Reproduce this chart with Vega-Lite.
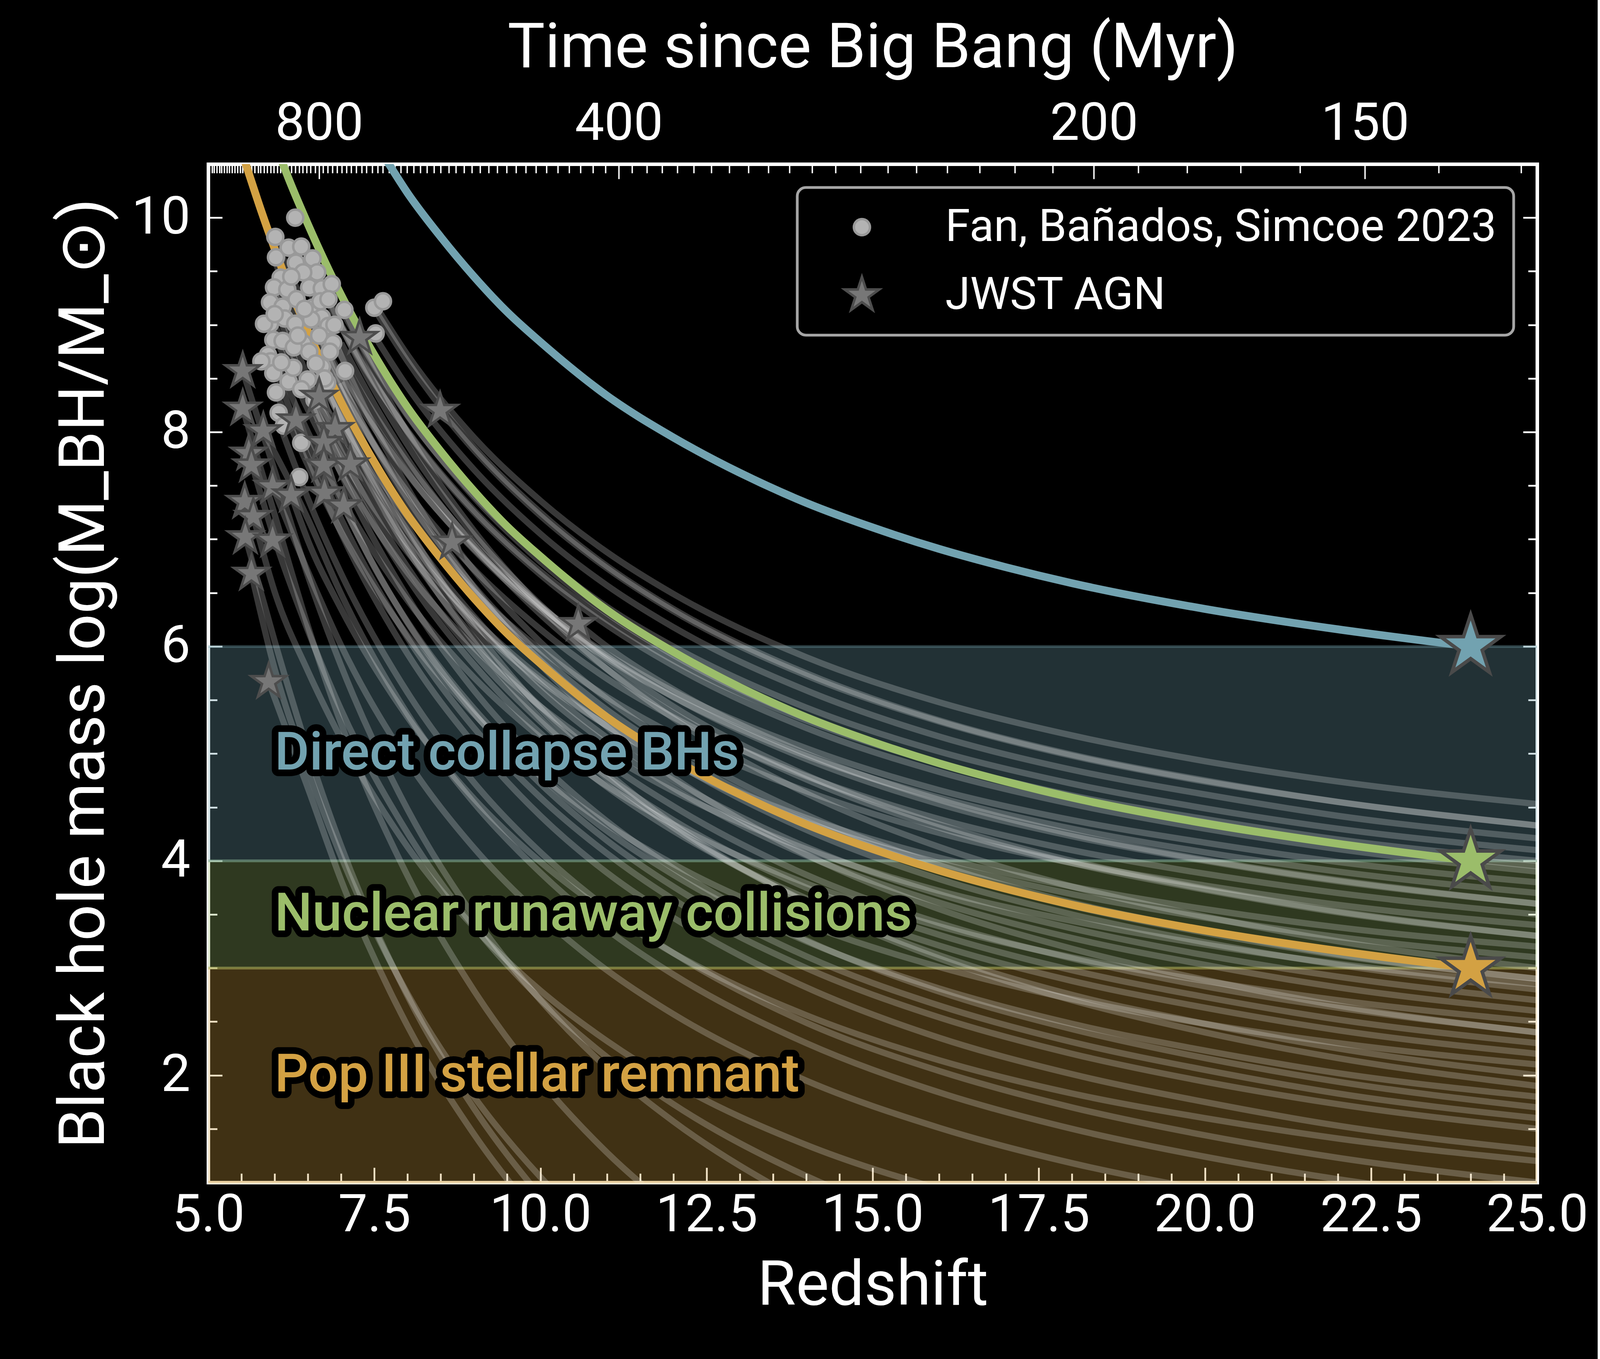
{
  "$schema": "https://vega.github.io/schema/vega-lite/v6.json",
  "width": 4090,
  "height": 3479,
  "autosize": {"type": "fit", "contains": "padding"},
  "padding": {"left": 134, "top": 43, "right": 24, "bottom": 108},
  "background": "black",
  "datasets": {
    "bands": [
      {"seed": "Direct collapse BHs", "lo": 4, "hi": 6, "ym": 5, "zt": 6},
      {"seed": "Nuclear runaway collisions", "lo": 3, "hi": 4, "ym": 3.5, "zt": 6},
      {"seed": "Pop III stellar remnant", "lo": 1, "hi": 3, "ym": 2, "zt": 6}
    ],
    "curves": [
      {"seed": "Direct collapse BHs", "z": 7.7, "m": 10.52},
      {"seed": "Direct collapse BHs", "z": 8, "m": 10.23},
      {"seed": "Direct collapse BHs", "z": 8.5, "m": 9.82},
      {"seed": "Direct collapse BHs", "z": 9, "m": 9.45},
      {"seed": "Direct collapse BHs", "z": 9.5, "m": 9.12},
      {"seed": "Direct collapse BHs", "z": 10, "m": 8.84},
      {"seed": "Direct collapse BHs", "z": 11, "m": 8.34},
      {"seed": "Direct collapse BHs", "z": 12, "m": 7.95},
      {"seed": "Direct collapse BHs", "z": 13, "m": 7.62},
      {"seed": "Direct collapse BHs", "z": 14, "m": 7.34},
      {"seed": "Direct collapse BHs", "z": 15, "m": 7.11},
      {"seed": "Direct collapse BHs", "z": 16, "m": 6.91},
      {"seed": "Direct collapse BHs", "z": 17, "m": 6.74},
      {"seed": "Direct collapse BHs", "z": 18, "m": 6.59},
      {"seed": "Direct collapse BHs", "z": 20, "m": 6.35},
      {"seed": "Direct collapse BHs", "z": 22, "m": 6.16},
      {"seed": "Direct collapse BHs", "z": 24, "m": 6.0},
      {"seed": "Nuclear runaway collisions", "z": 6.1, "m": 10.54},
      {"seed": "Nuclear runaway collisions", "z": 6.2, "m": 10.38},
      {"seed": "Nuclear runaway collisions", "z": 6.5, "m": 9.94},
      {"seed": "Nuclear runaway collisions", "z": 7, "m": 9.28},
      {"seed": "Nuclear runaway collisions", "z": 7.5, "m": 8.72},
      {"seed": "Nuclear runaway collisions", "z": 8, "m": 8.23},
      {"seed": "Nuclear runaway collisions", "z": 8.5, "m": 7.82},
      {"seed": "Nuclear runaway collisions", "z": 9, "m": 7.45},
      {"seed": "Nuclear runaway collisions", "z": 9.5, "m": 7.12},
      {"seed": "Nuclear runaway collisions", "z": 10, "m": 6.84},
      {"seed": "Nuclear runaway collisions", "z": 11, "m": 6.34},
      {"seed": "Nuclear runaway collisions", "z": 12, "m": 5.95},
      {"seed": "Nuclear runaway collisions", "z": 13, "m": 5.62},
      {"seed": "Nuclear runaway collisions", "z": 14, "m": 5.34},
      {"seed": "Nuclear runaway collisions", "z": 15, "m": 5.11},
      {"seed": "Nuclear runaway collisions", "z": 16, "m": 4.91},
      {"seed": "Nuclear runaway collisions", "z": 17, "m": 4.74},
      {"seed": "Nuclear runaway collisions", "z": 18, "m": 4.59},
      {"seed": "Nuclear runaway collisions", "z": 20, "m": 4.35},
      {"seed": "Nuclear runaway collisions", "z": 22, "m": 4.16},
      {"seed": "Nuclear runaway collisions", "z": 24, "m": 4.0},
      {"seed": "Pop III stellar remnant", "z": 5.55, "m": 10.53},
      {"seed": "Pop III stellar remnant", "z": 5.8, "m": 10.06},
      {"seed": "Pop III stellar remnant", "z": 6, "m": 9.71},
      {"seed": "Pop III stellar remnant", "z": 6.2, "m": 9.38},
      {"seed": "Pop III stellar remnant", "z": 6.5, "m": 8.94},
      {"seed": "Pop III stellar remnant", "z": 7, "m": 8.28},
      {"seed": "Pop III stellar remnant", "z": 7.5, "m": 7.72},
      {"seed": "Pop III stellar remnant", "z": 8, "m": 7.23},
      {"seed": "Pop III stellar remnant", "z": 8.5, "m": 6.82},
      {"seed": "Pop III stellar remnant", "z": 9, "m": 6.45},
      {"seed": "Pop III stellar remnant", "z": 9.5, "m": 6.12},
      {"seed": "Pop III stellar remnant", "z": 10, "m": 5.84},
      {"seed": "Pop III stellar remnant", "z": 11, "m": 5.34},
      {"seed": "Pop III stellar remnant", "z": 12, "m": 4.95},
      {"seed": "Pop III stellar remnant", "z": 13, "m": 4.62},
      {"seed": "Pop III stellar remnant", "z": 14, "m": 4.34},
      {"seed": "Pop III stellar remnant", "z": 15, "m": 4.11},
      {"seed": "Pop III stellar remnant", "z": 16, "m": 3.91},
      {"seed": "Pop III stellar remnant", "z": 17, "m": 3.74},
      {"seed": "Pop III stellar remnant", "z": 18, "m": 3.59},
      {"seed": "Pop III stellar remnant", "z": 20, "m": 3.35},
      {"seed": "Pop III stellar remnant", "z": 22, "m": 3.16},
      {"seed": "Pop III stellar remnant", "z": 24, "m": 3.0}
    ],
    "tracks": [
      {"id": "t1", "z": 7.5, "m": 9.2}, {"id": "t1", "z": 8, "m": 8.72}, {"id": "t1", "z": 9, "m": 7.95}, {"id": "t1", "z": 10, "m": 7.36}, {"id": "t1", "z": 11, "m": 6.88}, {"id": "t1", "z": 12, "m": 6.49}, {"id": "t1", "z": 14, "m": 5.9}, {"id": "t1", "z": 16, "m": 5.48}, {"id": "t1", "z": 18, "m": 5.17}, {"id": "t1", "z": 20, "m": 4.93}, {"id": "t1", "z": 22, "m": 4.74}, {"id": "t1", "z": 25, "m": 4.53},
      {"id": "t2", "z": 7.5, "m": 9.15}, {"id": "t2", "z": 8, "m": 8.66}, {"id": "t2", "z": 9, "m": 7.86}, {"id": "t2", "z": 10, "m": 7.25}, {"id": "t2", "z": 11, "m": 6.75}, {"id": "t2", "z": 12, "m": 6.35}, {"id": "t2", "z": 14, "m": 5.75}, {"id": "t2", "z": 16, "m": 5.31}, {"id": "t2", "z": 18, "m": 4.99}, {"id": "t2", "z": 20, "m": 4.75}, {"id": "t2", "z": 22, "m": 4.55}, {"id": "t2", "z": 25, "m": 4.33},
      {"id": "t3", "z": 7.5, "m": 8.9}, {"id": "t3", "z": 8, "m": 8.42}, {"id": "t3", "z": 9, "m": 7.65}, {"id": "t3", "z": 10, "m": 7.05}, {"id": "t3", "z": 11, "m": 6.57}, {"id": "t3", "z": 12, "m": 6.18}, {"id": "t3", "z": 14, "m": 5.59}, {"id": "t3", "z": 16, "m": 5.16}, {"id": "t3", "z": 18, "m": 4.85}, {"id": "t3", "z": 20, "m": 4.62}, {"id": "t3", "z": 22, "m": 4.42}, {"id": "t3", "z": 25, "m": 4.21},
      {"id": "t4", "z": 7, "m": 9.14}, {"id": "t4", "z": 7.5, "m": 8.62}, {"id": "t4", "z": 8, "m": 8.15}, {"id": "t4", "z": 9, "m": 7.41}, {"id": "t4", "z": 10, "m": 6.84}, {"id": "t4", "z": 11, "m": 6.37}, {"id": "t4", "z": 12, "m": 6.0}, {"id": "t4", "z": 14, "m": 5.43}, {"id": "t4", "z": 16, "m": 5.02}, {"id": "t4", "z": 18, "m": 4.72}, {"id": "t4", "z": 20, "m": 4.49}, {"id": "t4", "z": 22, "m": 4.3}, {"id": "t4", "z": 25, "m": 4.1},
      {"id": "t5", "z": 7, "m": 8.57}, {"id": "t5", "z": 7.5, "m": 8.07}, {"id": "t5", "z": 8, "m": 7.62}, {"id": "t5", "z": 9, "m": 6.9}, {"id": "t5", "z": 10, "m": 6.34}, {"id": "t5", "z": 11, "m": 5.89}, {"id": "t5", "z": 12, "m": 5.53}, {"id": "t5", "z": 14, "m": 4.98}, {"id": "t5", "z": 16, "m": 4.59}, {"id": "t5", "z": 18, "m": 4.3}, {"id": "t5", "z": 20, "m": 4.08}, {"id": "t5", "z": 22, "m": 3.9}, {"id": "t5", "z": 25, "m": 3.7},
      {"id": "t6", "z": 7, "m": 8.83}, {"id": "t6", "z": 7.5, "m": 8.26}, {"id": "t6", "z": 8, "m": 7.75}, {"id": "t6", "z": 9, "m": 6.94}, {"id": "t6", "z": 10, "m": 6.3}, {"id": "t6", "z": 11, "m": 5.79}, {"id": "t6", "z": 12, "m": 5.38}, {"id": "t6", "z": 14, "m": 4.76}, {"id": "t6", "z": 16, "m": 4.31}, {"id": "t6", "z": 18, "m": 3.98}, {"id": "t6", "z": 20, "m": 3.73}, {"id": "t6", "z": 22, "m": 3.52}, {"id": "t6", "z": 25, "m": 3.3},
      {"id": "t7", "z": 7, "m": 8.46}, {"id": "t7", "z": 7.5, "m": 7.87}, {"id": "t7", "z": 8, "m": 7.35}, {"id": "t7", "z": 9, "m": 6.52}, {"id": "t7", "z": 10, "m": 5.87}, {"id": "t7", "z": 11, "m": 5.35}, {"id": "t7", "z": 12, "m": 4.93}, {"id": "t7", "z": 14, "m": 4.29}, {"id": "t7", "z": 16, "m": 3.83}, {"id": "t7", "z": 18, "m": 3.5}, {"id": "t7", "z": 20, "m": 3.24}, {"id": "t7", "z": 22, "m": 3.03}, {"id": "t7", "z": 25, "m": 2.8},
      {"id": "t8", "z": 7, "m": 9.0}, {"id": "t8", "z": 7.5, "m": 8.47}, {"id": "t8", "z": 8, "m": 8.0}, {"id": "t8", "z": 9, "m": 7.25}, {"id": "t8", "z": 10, "m": 6.67}, {"id": "t8", "z": 11, "m": 6.2}, {"id": "t8", "z": 12, "m": 5.82}, {"id": "t8", "z": 14, "m": 5.24}, {"id": "t8", "z": 16, "m": 4.83}, {"id": "t8", "z": 18, "m": 4.53}, {"id": "t8", "z": 20, "m": 4.3}, {"id": "t8", "z": 22, "m": 4.11}, {"id": "t8", "z": 25, "m": 3.9},
      {"id": "t31", "z": 7, "m": 9.2}, {"id": "t31", "z": 7.5, "m": 8.56}, {"id": "t31", "z": 8, "m": 7.99}, {"id": "t31", "z": 9, "m": 7.08}, {"id": "t31", "z": 10, "m": 6.37}, {"id": "t31", "z": 11, "m": 5.79}, {"id": "t31", "z": 12, "m": 5.33}, {"id": "t31", "z": 14, "m": 4.63}, {"id": "t31", "z": 16, "m": 4.13}, {"id": "t31", "z": 18, "m": 3.76}, {"id": "t31", "z": 20, "m": 3.48}, {"id": "t31", "z": 22, "m": 3.25}, {"id": "t31", "z": 25, "m": 3.0},
      {"id": "s11", "z": 7.04, "m": 7.31}, {"id": "s11", "z": 7.5, "m": 6.74}, {"id": "s11", "z": 8, "m": 6.23}, {"id": "s11", "z": 9, "m": 5.42}, {"id": "s11", "z": 10, "m": 4.79}, {"id": "s11", "z": 11, "m": 4.28}, {"id": "s11", "z": 12, "m": 3.87}, {"id": "s11", "z": 14, "m": 3.25}, {"id": "s11", "z": 16, "m": 2.81}, {"id": "s11", "z": 18, "m": 2.48}, {"id": "s11", "z": 20, "m": 2.23}, {"id": "s11", "z": 22, "m": 2.02}, {"id": "s11", "z": 25, "m": 1.8},
      {"id": "t9", "z": 6.5, "m": 9.6}, {"id": "t9", "z": 7, "m": 8.98}, {"id": "t9", "z": 8, "m": 8.01}, {"id": "t9", "z": 9, "m": 7.27}, {"id": "t9", "z": 10, "m": 6.7}, {"id": "t9", "z": 11, "m": 6.25}, {"id": "t9", "z": 12, "m": 5.87}, {"id": "t9", "z": 14, "m": 5.31}, {"id": "t9", "z": 16, "m": 4.91}, {"id": "t9", "z": 18, "m": 4.61}, {"id": "t9", "z": 20, "m": 4.39}, {"id": "t9", "z": 22, "m": 4.2}, {"id": "t9", "z": 25, "m": 4.0},
      {"id": "t10", "z": 6.5, "m": 9.35}, {"id": "t10", "z": 7, "m": 8.71}, {"id": "t10", "z": 8, "m": 7.71}, {"id": "t10", "z": 9, "m": 6.96}, {"id": "t10", "z": 10, "m": 6.38}, {"id": "t10", "z": 11, "m": 5.91}, {"id": "t10", "z": 12, "m": 5.53}, {"id": "t10", "z": 14, "m": 4.95}, {"id": "t10", "z": 16, "m": 4.53}, {"id": "t10", "z": 18, "m": 4.23}, {"id": "t10", "z": 20, "m": 4.0}, {"id": "t10", "z": 22, "m": 3.81}, {"id": "t10", "z": 25, "m": 3.6},
      {"id": "t11", "z": 6.5, "m": 9.0}, {"id": "t11", "z": 7, "m": 8.39}, {"id": "t11", "z": 8, "m": 7.44}, {"id": "t11", "z": 9, "m": 6.72}, {"id": "t11", "z": 10, "m": 6.16}, {"id": "t11", "z": 11, "m": 5.7}, {"id": "t11", "z": 12, "m": 5.34}, {"id": "t11", "z": 14, "m": 4.79}, {"id": "t11", "z": 16, "m": 4.39}, {"id": "t11", "z": 18, "m": 4.1}, {"id": "t11", "z": 20, "m": 3.88}, {"id": "t11", "z": 22, "m": 3.7}, {"id": "t11", "z": 25, "m": 3.5},
      {"id": "t12", "z": 6.5, "m": 8.5}, {"id": "t12", "z": 7, "m": 7.9}, {"id": "t12", "z": 8, "m": 6.96}, {"id": "t12", "z": 9, "m": 6.26}, {"id": "t12", "z": 10, "m": 5.71}, {"id": "t12", "z": 11, "m": 5.26}, {"id": "t12", "z": 12, "m": 4.91}, {"id": "t12", "z": 14, "m": 4.36}, {"id": "t12", "z": 16, "m": 3.98}, {"id": "t12", "z": 18, "m": 3.69}, {"id": "t12", "z": 20, "m": 3.47}, {"id": "t12", "z": 22, "m": 3.29}, {"id": "t12", "z": 25, "m": 3.1},
      {"id": "t13", "z": 6.5, "m": 9.16}, {"id": "t13", "z": 7, "m": 8.47}, {"id": "t13", "z": 8, "m": 7.38}, {"id": "t13", "z": 9, "m": 6.56}, {"id": "t13", "z": 10, "m": 5.92}, {"id": "t13", "z": 11, "m": 5.41}, {"id": "t13", "z": 12, "m": 5.0}, {"id": "t13", "z": 14, "m": 4.37}, {"id": "t13", "z": 16, "m": 3.92}, {"id": "t13", "z": 18, "m": 3.58}, {"id": "t13", "z": 20, "m": 3.33}, {"id": "t13", "z": 22, "m": 3.12}, {"id": "t13", "z": 25, "m": 2.9},
      {"id": "t14", "z": 6.5, "m": 8.8}, {"id": "t14", "z": 7, "m": 8.11}, {"id": "t14", "z": 8, "m": 7.04}, {"id": "t14", "z": 9, "m": 6.23}, {"id": "t14", "z": 10, "m": 5.59}, {"id": "t14", "z": 11, "m": 5.09}, {"id": "t14", "z": 12, "m": 4.68}, {"id": "t14", "z": 14, "m": 4.05}, {"id": "t14", "z": 16, "m": 3.61}, {"id": "t14", "z": 18, "m": 3.28}, {"id": "t14", "z": 20, "m": 3.03}, {"id": "t14", "z": 22, "m": 2.82}, {"id": "t14", "z": 25, "m": 2.6},
      {"id": "t15", "z": 6.5, "m": 9.5}, {"id": "t15", "z": 7, "m": 8.71}, {"id": "t15", "z": 8, "m": 7.48}, {"id": "t15", "z": 9, "m": 6.55}, {"id": "t15", "z": 10, "m": 5.83}, {"id": "t15", "z": 11, "m": 5.25}, {"id": "t15", "z": 12, "m": 4.78}, {"id": "t15", "z": 14, "m": 4.06}, {"id": "t15", "z": 16, "m": 3.55}, {"id": "t15", "z": 18, "m": 3.18}, {"id": "t15", "z": 20, "m": 2.89}, {"id": "t15", "z": 22, "m": 2.65}, {"id": "t15", "z": 25, "m": 2.4},
      {"id": "t16", "z": 6.5, "m": 8.4}, {"id": "t16", "z": 7, "m": 7.71}, {"id": "t16", "z": 8, "m": 6.64}, {"id": "t16", "z": 9, "m": 5.83}, {"id": "t16", "z": 10, "m": 5.19}, {"id": "t16", "z": 11, "m": 4.69}, {"id": "t16", "z": 12, "m": 4.28}, {"id": "t16", "z": 14, "m": 3.65}, {"id": "t16", "z": 16, "m": 3.21}, {"id": "t16", "z": 18, "m": 2.88}, {"id": "t16", "z": 20, "m": 2.63}, {"id": "t16", "z": 22, "m": 2.42}, {"id": "t16", "z": 25, "m": 2.2},
      {"id": "t17", "z": 6.5, "m": 9.2}, {"id": "t17", "z": 7, "m": 8.39}, {"id": "t17", "z": 8, "m": 7.12}, {"id": "t17", "z": 9, "m": 6.17}, {"id": "t17", "z": 10, "m": 5.42}, {"id": "t17", "z": 11, "m": 4.83}, {"id": "t17", "z": 12, "m": 4.34}, {"id": "t17", "z": 14, "m": 3.61}, {"id": "t17", "z": 16, "m": 3.09}, {"id": "t17", "z": 18, "m": 2.7}, {"id": "t17", "z": 20, "m": 2.4}, {"id": "t17", "z": 22, "m": 2.16}, {"id": "t17", "z": 25, "m": 1.9},
      {"id": "t18", "z": 6.5, "m": 7.9}, {"id": "t18", "z": 7, "m": 7.19}, {"id": "t18", "z": 8, "m": 6.08}, {"id": "t18", "z": 9, "m": 5.24}, {"id": "t18", "z": 10, "m": 4.59}, {"id": "t18", "z": 11, "m": 4.07}, {"id": "t18", "z": 12, "m": 3.64}, {"id": "t18", "z": 14, "m": 3.0}, {"id": "t18", "z": 16, "m": 2.54}, {"id": "t18", "z": 18, "m": 2.2}, {"id": "t18", "z": 20, "m": 1.94}, {"id": "t18", "z": 22, "m": 1.73}, {"id": "t18", "z": 25, "m": 1.5},
      {"id": "t29", "z": 6.5, "m": 9.7}, {"id": "t29", "z": 7, "m": 8.99}, {"id": "t29", "z": 8, "m": 7.88}, {"id": "t29", "z": 9, "m": 7.04}, {"id": "t29", "z": 10, "m": 6.39}, {"id": "t29", "z": 11, "m": 5.87}, {"id": "t29", "z": 12, "m": 5.44}, {"id": "t29", "z": 14, "m": 4.8}, {"id": "t29", "z": 16, "m": 4.34}, {"id": "t29", "z": 18, "m": 4.0}, {"id": "t29", "z": 20, "m": 3.74}, {"id": "t29", "z": 22, "m": 3.53}, {"id": "t29", "z": 25, "m": 3.3},
      {"id": "t30", "z": 6.5, "m": 8.9}, {"id": "t30", "z": 7, "m": 8.14}, {"id": "t30", "z": 8, "m": 6.94}, {"id": "t30", "z": 9, "m": 6.04}, {"id": "t30", "z": 10, "m": 5.33}, {"id": "t30", "z": 11, "m": 4.77}, {"id": "t30", "z": 12, "m": 4.31}, {"id": "t30", "z": 14, "m": 3.62}, {"id": "t30", "z": 16, "m": 3.12}, {"id": "t30", "z": 18, "m": 2.75}, {"id": "t30", "z": 20, "m": 2.48}, {"id": "t30", "z": 22, "m": 2.25}, {"id": "t30", "z": 25, "m": 2.0},
      {"id": "t19", "z": 6, "m": 9.8}, {"id": "t19", "z": 6.5, "m": 9.12}, {"id": "t19", "z": 7, "m": 8.53}, {"id": "t19", "z": 8, "m": 7.61}, {"id": "t19", "z": 9, "m": 6.91}, {"id": "t19", "z": 10, "m": 6.37}, {"id": "t19", "z": 11, "m": 5.93}, {"id": "t19", "z": 12, "m": 5.58}, {"id": "t19", "z": 14, "m": 5.05}, {"id": "t19", "z": 16, "m": 4.66}, {"id": "t19", "z": 18, "m": 4.38}, {"id": "t19", "z": 20, "m": 4.17}, {"id": "t19", "z": 22, "m": 3.99}, {"id": "t19", "z": 25, "m": 3.8},
      {"id": "t20", "z": 6, "m": 9.4}, {"id": "t20", "z": 6.5, "m": 8.72}, {"id": "t20", "z": 7, "m": 8.13}, {"id": "t20", "z": 8, "m": 7.21}, {"id": "t20", "z": 9, "m": 6.51}, {"id": "t20", "z": 10, "m": 5.97}, {"id": "t20", "z": 11, "m": 5.53}, {"id": "t20", "z": 12, "m": 5.18}, {"id": "t20", "z": 14, "m": 4.65}, {"id": "t20", "z": 16, "m": 4.26}, {"id": "t20", "z": 18, "m": 3.98}, {"id": "t20", "z": 20, "m": 3.77}, {"id": "t20", "z": 22, "m": 3.59}, {"id": "t20", "z": 25, "m": 3.4},
      {"id": "t21", "z": 6, "m": 9.0}, {"id": "t21", "z": 6.5, "m": 8.34}, {"id": "t21", "z": 7, "m": 7.77}, {"id": "t21", "z": 8, "m": 6.88}, {"id": "t21", "z": 9, "m": 6.21}, {"id": "t21", "z": 10, "m": 5.68}, {"id": "t21", "z": 11, "m": 5.26}, {"id": "t21", "z": 12, "m": 4.92}, {"id": "t21", "z": 14, "m": 4.4}, {"id": "t21", "z": 16, "m": 4.03}, {"id": "t21", "z": 18, "m": 3.76}, {"id": "t21", "z": 20, "m": 3.55}, {"id": "t21", "z": 22, "m": 3.38}, {"id": "t21", "z": 25, "m": 3.2},
      {"id": "t22", "z": 6, "m": 9.6}, {"id": "t22", "z": 6.5, "m": 8.82}, {"id": "t22", "z": 7, "m": 8.14}, {"id": "t22", "z": 8, "m": 7.08}, {"id": "t22", "z": 9, "m": 6.28}, {"id": "t22", "z": 10, "m": 5.65}, {"id": "t22", "z": 11, "m": 5.15}, {"id": "t22", "z": 12, "m": 4.75}, {"id": "t22", "z": 14, "m": 4.13}, {"id": "t22", "z": 16, "m": 3.69}, {"id": "t22", "z": 18, "m": 3.37}, {"id": "t22", "z": 20, "m": 3.12}, {"id": "t22", "z": 22, "m": 2.92}, {"id": "t22", "z": 25, "m": 2.7},
      {"id": "t23", "z": 6, "m": 8.7}, {"id": "t23", "z": 6.5, "m": 8.0}, {"id": "t23", "z": 7, "m": 7.39}, {"id": "t23", "z": 8, "m": 6.43}, {"id": "t23", "z": 9, "m": 5.71}, {"id": "t23", "z": 10, "m": 5.15}, {"id": "t23", "z": 11, "m": 4.7}, {"id": "t23", "z": 12, "m": 4.34}, {"id": "t23", "z": 14, "m": 3.79}, {"id": "t23", "z": 16, "m": 3.39}, {"id": "t23", "z": 18, "m": 3.1}, {"id": "t23", "z": 20, "m": 2.88}, {"id": "t23", "z": 22, "m": 2.7}, {"id": "t23", "z": 25, "m": 2.5},
      {"id": "t24", "z": 6, "m": 9.3}, {"id": "t24", "z": 6.5, "m": 8.51}, {"id": "t24", "z": 7, "m": 7.82}, {"id": "t24", "z": 8, "m": 6.74}, {"id": "t24", "z": 9, "m": 5.93}, {"id": "t24", "z": 10, "m": 5.3}, {"id": "t24", "z": 11, "m": 4.79}, {"id": "t24", "z": 12, "m": 4.38}, {"id": "t24", "z": 14, "m": 3.75}, {"id": "t24", "z": 16, "m": 3.31}, {"id": "t24", "z": 18, "m": 2.98}, {"id": "t24", "z": 20, "m": 2.73}, {"id": "t24", "z": 22, "m": 2.52}, {"id": "t24", "z": 25, "m": 2.3},
      {"id": "t25", "z": 6, "m": 8.4}, {"id": "t25", "z": 6.5, "m": 7.69}, {"id": "t25", "z": 7, "m": 7.07}, {"id": "t25", "z": 8, "m": 6.1}, {"id": "t25", "z": 9, "m": 5.37}, {"id": "t25", "z": 10, "m": 4.8}, {"id": "t25", "z": 11, "m": 4.34}, {"id": "t25", "z": 12, "m": 3.97}, {"id": "t25", "z": 14, "m": 3.41}, {"id": "t25", "z": 16, "m": 3.01}, {"id": "t25", "z": 18, "m": 2.71}, {"id": "t25", "z": 20, "m": 2.48}, {"id": "t25", "z": 22, "m": 2.3}, {"id": "t25", "z": 25, "m": 2.1},
      {"id": "t26", "z": 6, "m": 9.2}, {"id": "t26", "z": 6.5, "m": 8.35}, {"id": "t26", "z": 7, "m": 7.61}, {"id": "t26", "z": 8, "m": 6.46}, {"id": "t26", "z": 9, "m": 5.59}, {"id": "t26", "z": 10, "m": 4.91}, {"id": "t26", "z": 11, "m": 4.37}, {"id": "t26", "z": 12, "m": 3.93}, {"id": "t26", "z": 14, "m": 3.26}, {"id": "t26", "z": 16, "m": 2.78}, {"id": "t26", "z": 18, "m": 2.43}, {"id": "t26", "z": 20, "m": 2.16}, {"id": "t26", "z": 22, "m": 1.94}, {"id": "t26", "z": 25, "m": 1.7},
      {"id": "t27", "z": 6, "m": 8.6}, {"id": "t27", "z": 6.5, "m": 7.77}, {"id": "t27", "z": 7, "m": 7.06}, {"id": "t27", "z": 8, "m": 5.93}, {"id": "t27", "z": 9, "m": 5.09}, {"id": "t27", "z": 10, "m": 4.42}, {"id": "t27", "z": 11, "m": 3.89}, {"id": "t27", "z": 12, "m": 3.47}, {"id": "t27", "z": 14, "m": 2.82}, {"id": "t27", "z": 16, "m": 2.35}, {"id": "t27", "z": 18, "m": 2.01}, {"id": "t27", "z": 20, "m": 1.75}, {"id": "t27", "z": 22, "m": 1.53}, {"id": "t27", "z": 25, "m": 1.3},
      {"id": "t28", "z": 6, "m": 8.2}, {"id": "t28", "z": 6.5, "m": 7.38}, {"id": "t28", "z": 7, "m": 6.68}, {"id": "t28", "z": 8, "m": 5.57}, {"id": "t28", "z": 9, "m": 4.73}, {"id": "t28", "z": 10, "m": 4.08}, {"id": "t28", "z": 11, "m": 3.56}, {"id": "t28", "z": 12, "m": 3.14}, {"id": "t28", "z": 14, "m": 2.49}, {"id": "t28", "z": 16, "m": 2.04}, {"id": "t28", "z": 18, "m": 1.7}, {"id": "t28", "z": 20, "m": 1.44}, {"id": "t28", "z": 22, "m": 1.23}, {"id": "t28", "z": 25, "m": 1.0},
      {"id": "t32", "z": 6, "m": 8.9}, {"id": "t32", "z": 6.5, "m": 8.21}, {"id": "t32", "z": 7, "m": 7.62}, {"id": "t32", "z": 8, "m": 6.69}, {"id": "t32", "z": 9, "m": 5.99}, {"id": "t32", "z": 10, "m": 5.44}, {"id": "t32", "z": 11, "m": 5.0}, {"id": "t32", "z": 12, "m": 4.65}, {"id": "t32", "z": 14, "m": 4.11}, {"id": "t32", "z": 16, "m": 3.72}, {"id": "t32", "z": 18, "m": 3.44}, {"id": "t32", "z": 20, "m": 3.22}, {"id": "t32", "z": 22, "m": 3.04}, {"id": "t32", "z": 25, "m": 2.85},
      {"id": "s8", "z": 5.97, "m": 7.49}, {"id": "s8", "z": 6.5, "m": 6.7}, {"id": "s8", "z": 7, "m": 6.01}, {"id": "s8", "z": 8, "m": 4.93}, {"id": "s8", "z": 9, "m": 4.12}, {"id": "s8", "z": 10, "m": 3.49}, {"id": "s8", "z": 11, "m": 2.98}, {"id": "s8", "z": 12, "m": 2.57}, {"id": "s8", "z": 14, "m": 1.95}, {"id": "s8", "z": 16, "m": 1.51}, {"id": "s8", "z": 18, "m": 1.18}, {"id": "s8", "z": 20, "m": 0.93}, {"id": "s8", "z": 22, "m": 0.72}, {"id": "s8", "z": 25, "m": 0.5},
      {"id": "s9", "z": 6.25, "m": 7.41}, {"id": "s9", "z": 6.5, "m": 6.99}, {"id": "s9", "z": 7, "m": 6.35}, {"id": "s9", "z": 8, "m": 5.34}, {"id": "s9", "z": 9, "m": 4.58}, {"id": "s9", "z": 10, "m": 3.99}, {"id": "s9", "z": 11, "m": 3.52}, {"id": "s9", "z": 12, "m": 3.14}, {"id": "s9", "z": 14, "m": 2.56}, {"id": "s9", "z": 16, "m": 2.14}, {"id": "s9", "z": 18, "m": 1.83}, {"id": "s9", "z": 20, "m": 1.6}, {"id": "s9", "z": 22, "m": 1.41}, {"id": "s9", "z": 25, "m": 1.2},
      {"id": "s17", "z": 5.83, "m": 8.01}, {"id": "s17", "z": 6.5, "m": 7.19}, {"id": "s17", "z": 7, "m": 6.49}, {"id": "s17", "z": 8, "m": 5.37}, {"id": "s17", "z": 9, "m": 4.54}, {"id": "s17", "z": 10, "m": 3.89}, {"id": "s17", "z": 11, "m": 3.36}, {"id": "s17", "z": 12, "m": 2.94}, {"id": "s17", "z": 14, "m": 2.3}, {"id": "s17", "z": 16, "m": 1.84}, {"id": "s17", "z": 18, "m": 1.5}, {"id": "s17", "z": 20, "m": 1.24}, {"id": "s17", "z": 22, "m": 1.03}, {"id": "s17", "z": 25, "m": 0.8},
      {"id": "s7", "z": 5.91, "m": 5.67}, {"id": "s7", "z": 6.5, "m": 4.68}, {"id": "s7", "z": 7, "m": 3.82}, {"id": "s7", "z": 8, "m": 2.46}, {"id": "s7", "z": 9, "m": 1.45}, {"id": "s7", "z": 10, "m": 0.65},
      {"id": "s1", "z": 5.52, "m": 8.57}, {"id": "s1", "z": 6, "m": 7.64}, {"id": "s1", "z": 6.5, "m": 6.66}, {"id": "s1", "z": 7, "m": 5.82}, {"id": "s1", "z": 8, "m": 4.48}, {"id": "s1", "z": 9, "m": 3.48}, {"id": "s1", "z": 10, "m": 2.7}, {"id": "s1", "z": 11, "m": 2.07}, {"id": "s1", "z": 12, "m": 1.57}, {"id": "s1", "z": 14, "m": 0.8},
      {"id": "s2", "z": 5.52, "m": 8.22}, {"id": "s2", "z": 6, "m": 7.23}, {"id": "s2", "z": 6.5, "m": 6.19}, {"id": "s2", "z": 7, "m": 5.28}, {"id": "s2", "z": 8, "m": 3.86}, {"id": "s2", "z": 9, "m": 2.79}, {"id": "s2", "z": 10, "m": 1.95}, {"id": "s2", "z": 11, "m": 1.28}, {"id": "s2", "z": 12, "m": 0.74},
      {"id": "s3", "z": 5.56, "m": 7.02}, {"id": "s3", "z": 6, "m": 6.05}, {"id": "s3", "z": 6.5, "m": 5.03}, {"id": "s3", "z": 7, "m": 4.14}, {"id": "s3", "z": 8, "m": 2.74}, {"id": "s3", "z": 9, "m": 1.69}, {"id": "s3", "z": 10, "m": 0.87},
      {"id": "s4", "z": 5.65, "m": 6.68}, {"id": "s4", "z": 6, "m": 5.79}, {"id": "s4", "z": 6.5, "m": 4.85}, {"id": "s4", "z": 7, "m": 4.04}, {"id": "s4", "z": 8, "m": 2.76}, {"id": "s4", "z": 9, "m": 1.8}, {"id": "s4", "z": 10, "m": 1.05}, {"id": "s4", "z": 11, "m": 0.45},
      {"id": "s5", "z": 5.61, "m": 7.8}, {"id": "s5", "z": 6, "m": 7.0}, {"id": "s5", "z": 6.5, "m": 6.15}, {"id": "s5", "z": 7, "m": 5.41}, {"id": "s5", "z": 8, "m": 4.26}, {"id": "s5", "z": 9, "m": 3.39}, {"id": "s5", "z": 10, "m": 2.71}, {"id": "s5", "z": 11, "m": 2.17}, {"id": "s5", "z": 12, "m": 1.73}, {"id": "s5", "z": 14, "m": 1.06}, {"id": "s5", "z": 16, "m": 0.58},
      {"id": "s6", "z": 5.68, "m": 7.21}, {"id": "s6", "z": 6, "m": 6.51}, {"id": "s6", "z": 6.5, "m": 5.77}, {"id": "s6", "z": 7, "m": 5.14}, {"id": "s6", "z": 8, "m": 4.13}, {"id": "s6", "z": 9, "m": 3.38}, {"id": "s6", "z": 10, "m": 2.79}, {"id": "s6", "z": 11, "m": 2.32}, {"id": "s6", "z": 12, "m": 1.93}, {"id": "s6", "z": 14, "m": 1.35}, {"id": "s6", "z": 16, "m": 0.94}, {"id": "s6", "z": 18, "m": 0.63},
      {"id": "s10", "z": 6.74, "m": 7.69}, {"id": "s10", "z": 7, "m": 7.35}, {"id": "s10", "z": 8, "m": 6.22}, {"id": "s10", "z": 9, "m": 5.38}, {"id": "s10", "z": 10, "m": 4.72}, {"id": "s10", "z": 11, "m": 4.19}, {"id": "s10", "z": 12, "m": 3.76}, {"id": "s10", "z": 14, "m": 3.11}, {"id": "s10", "z": 16, "m": 2.65}, {"id": "s10", "z": 18, "m": 2.31}, {"id": "s10", "z": 20, "m": 2.05}, {"id": "s10", "z": 22, "m": 1.83}, {"id": "s10", "z": 25, "m": 1.6},
      {"id": "s16", "z": 6.67, "m": 8.33}, {"id": "s16", "z": 7, "m": 8.0}, {"id": "s16", "z": 8, "m": 6.9}, {"id": "s16", "z": 9, "m": 6.08}, {"id": "s16", "z": 10, "m": 5.44}, {"id": "s16", "z": 11, "m": 4.92}, {"id": "s16", "z": 12, "m": 4.51}, {"id": "s16", "z": 14, "m": 3.87}, {"id": "s16", "z": 16, "m": 3.42}, {"id": "s16", "z": 18, "m": 3.09}, {"id": "s16", "z": 20, "m": 2.83}, {"id": "s16", "z": 22, "m": 2.63}, {"id": "s16", "z": 25, "m": 2.4},
      {"id": "s12", "z": 8.49, "m": 8.2}, {"id": "s12", "z": 9, "m": 7.83}, {"id": "s12", "z": 10, "m": 7.22}, {"id": "s12", "z": 11, "m": 6.73}, {"id": "s12", "z": 12, "m": 6.33}, {"id": "s12", "z": 14, "m": 5.73}, {"id": "s12", "z": 16, "m": 5.3}, {"id": "s12", "z": 18, "m": 4.98}, {"id": "s12", "z": 20, "m": 4.74}, {"id": "s12", "z": 22, "m": 4.55}, {"id": "s12", "z": 25, "m": 4.33},
      {"id": "s13", "z": 8.67, "m": 6.97}, {"id": "s13", "z": 9, "m": 6.71}, {"id": "s13", "z": 10, "m": 6.04}, {"id": "s13", "z": 11, "m": 5.51}, {"id": "s13", "z": 12, "m": 5.08}, {"id": "s13", "z": 14, "m": 4.43}, {"id": "s13", "z": 16, "m": 3.96}, {"id": "s13", "z": 18, "m": 3.61}, {"id": "s13", "z": 20, "m": 3.35}, {"id": "s13", "z": 22, "m": 3.13}, {"id": "s13", "z": 25, "m": 2.9},
      {"id": "s14", "z": 10.57, "m": 6.21}, {"id": "s14", "z": 11, "m": 6.0}, {"id": "s14", "z": 12, "m": 5.6}, {"id": "s14", "z": 14, "m": 5.0}, {"id": "s14", "z": 16, "m": 4.57}, {"id": "s14", "z": 18, "m": 4.25}, {"id": "s14", "z": 20, "m": 4.01}, {"id": "s14", "z": 22, "m": 3.82}, {"id": "s14", "z": 25, "m": 3.6},
      {"id": "s15", "z": 7.28, "m": 8.88}, {"id": "s15", "z": 7.5, "m": 8.64}, {"id": "s15", "z": 8, "m": 8.16}, {"id": "s15", "z": 9, "m": 7.39}, {"id": "s15", "z": 10, "m": 6.79}, {"id": "s15", "z": 11, "m": 6.31}, {"id": "s15", "z": 12, "m": 5.92}, {"id": "s15", "z": 14, "m": 5.33}, {"id": "s15", "z": 16, "m": 4.91}, {"id": "s15", "z": 18, "m": 4.59}, {"id": "s15", "z": 20, "m": 4.36}, {"id": "s15", "z": 22, "m": 4.16}, {"id": "s15", "z": 25, "m": 3.95}
    ],
    "points": [
      {"src": "Fan, Bañados, Simcoe 2023", "z": 6.31, "m": 10.0},
      {"src": "Fan, Bañados, Simcoe 2023", "z": 6.01, "m": 9.82},
      {"src": "Fan, Bañados, Simcoe 2023", "z": 6.02, "m": 9.63},
      {"src": "Fan, Bañados, Simcoe 2023", "z": 6.21, "m": 9.72},
      {"src": "Fan, Bañados, Simcoe 2023", "z": 6.4, "m": 9.73},
      {"src": "Fan, Bañados, Simcoe 2023", "z": 6.32, "m": 9.58},
      {"src": "Fan, Bañados, Simcoe 2023", "z": 6.57, "m": 9.62},
      {"src": "Fan, Bañados, Simcoe 2023", "z": 6.64, "m": 9.49},
      {"src": "Fan, Bañados, Simcoe 2023", "z": 6.43, "m": 9.49},
      {"src": "Fan, Bañados, Simcoe 2023", "z": 6.09, "m": 9.44},
      {"src": "Fan, Bañados, Simcoe 2023", "z": 5.99, "m": 9.35},
      {"src": "Fan, Bañados, Simcoe 2023", "z": 6.19, "m": 9.33},
      {"src": "Fan, Bañados, Simcoe 2023", "z": 6.52, "m": 9.35},
      {"src": "Fan, Bañados, Simcoe 2023", "z": 6.71, "m": 9.34},
      {"src": "Fan, Bañados, Simcoe 2023", "z": 6.86, "m": 9.38},
      {"src": "Fan, Bañados, Simcoe 2023", "z": 5.93, "m": 9.21},
      {"src": "Fan, Bañados, Simcoe 2023", "z": 6.12, "m": 9.17},
      {"src": "Fan, Bañados, Simcoe 2023", "z": 6.33, "m": 9.24},
      {"src": "Fan, Bañados, Simcoe 2023", "z": 6.57, "m": 9.16},
      {"src": "Fan, Bañados, Simcoe 2023", "z": 6.69, "m": 9.22},
      {"src": "Fan, Bañados, Simcoe 2023", "z": 6.81, "m": 9.24},
      {"src": "Fan, Bañados, Simcoe 2023", "z": 7.05, "m": 9.14},
      {"src": "Fan, Bañados, Simcoe 2023", "z": 7.5, "m": 9.16},
      {"src": "Fan, Bañados, Simcoe 2023", "z": 7.63, "m": 9.22},
      {"src": "Fan, Bañados, Simcoe 2023", "z": 7.52, "m": 8.92},
      {"src": "Fan, Bañados, Simcoe 2023", "z": 5.93, "m": 9.01},
      {"src": "Fan, Bañados, Simcoe 2023", "z": 6.15, "m": 9.06},
      {"src": "Fan, Bañados, Simcoe 2023", "z": 6.31, "m": 9.01},
      {"src": "Fan, Bañados, Simcoe 2023", "z": 6.71, "m": 9.07},
      {"src": "Fan, Bañados, Simcoe 2023", "z": 6.81, "m": 8.99},
      {"src": "Fan, Bañados, Simcoe 2023", "z": 5.98, "m": 8.86},
      {"src": "Fan, Bañados, Simcoe 2023", "z": 6.12, "m": 8.85},
      {"src": "Fan, Bañados, Simcoe 2023", "z": 6.43, "m": 8.83},
      {"src": "Fan, Bañados, Simcoe 2023", "z": 6.67, "m": 8.9},
      {"src": "Fan, Bañados, Simcoe 2023", "z": 6.88, "m": 8.83},
      {"src": "Fan, Bañados, Simcoe 2023", "z": 6.52, "m": 8.75},
      {"src": "Fan, Bañados, Simcoe 2023", "z": 6.83, "m": 8.75},
      {"src": "Fan, Bañados, Simcoe 2023", "z": 5.9, "m": 8.72},
      {"src": "Fan, Bañados, Simcoe 2023", "z": 5.94, "m": 8.66},
      {"src": "Fan, Bañados, Simcoe 2023", "z": 5.98, "m": 8.55},
      {"src": "Fan, Bañados, Simcoe 2023", "z": 6.21, "m": 8.47},
      {"src": "Fan, Bañados, Simcoe 2023", "z": 6.5, "m": 8.49},
      {"src": "Fan, Bañados, Simcoe 2023", "z": 6.71, "m": 8.61},
      {"src": "Fan, Bañados, Simcoe 2023", "z": 7.06, "m": 8.57},
      {"src": "Fan, Bañados, Simcoe 2023", "z": 6.4, "m": 8.4},
      {"src": "Fan, Bañados, Simcoe 2023", "z": 6.02, "m": 8.37},
      {"src": "Fan, Bañados, Simcoe 2023", "z": 6.79, "m": 8.46},
      {"src": "Fan, Bañados, Simcoe 2023", "z": 6.06, "m": 8.18},
      {"src": "Fan, Bañados, Simcoe 2023", "z": 6.14, "m": 8.06},
      {"src": "Fan, Bañados, Simcoe 2023", "z": 6.4, "m": 7.9},
      {"src": "Fan, Bañados, Simcoe 2023", "z": 6.37, "m": 7.58},
      {"src": "Fan, Bañados, Simcoe 2023", "z": 6.62, "m": 8.64},
      {"src": "Fan, Bañados, Simcoe 2023", "z": 6.29, "m": 8.79},
      {"src": "Fan, Bañados, Simcoe 2023", "z": 5.84, "m": 9.01},
      {"src": "Fan, Bañados, Simcoe 2023", "z": 5.8, "m": 8.66},
      {"src": "Fan, Bañados, Simcoe 2023", "z": 6.25, "m": 9.45},
      {"src": "Fan, Bañados, Simcoe 2023", "z": 6.55, "m": 9.05},
      {"src": "Fan, Bañados, Simcoe 2023", "z": 6.0, "m": 9.1},
      {"src": "Fan, Bañados, Simcoe 2023", "z": 6.28, "m": 8.6},
      {"src": "Fan, Bañados, Simcoe 2023", "z": 6.6, "m": 8.3},
      {"src": "Fan, Bañados, Simcoe 2023", "z": 6.9, "m": 9.0},
      {"src": "Fan, Bañados, Simcoe 2023", "z": 6.45, "m": 9.15},
      {"src": "Fan, Bañados, Simcoe 2023", "z": 6.75, "m": 8.5},
      {"src": "Fan, Bañados, Simcoe 2023", "z": 6.1, "m": 8.65},
      {"src": "Fan, Bañados, Simcoe 2023", "z": 6.35, "m": 8.9},
      {"src": "JWST AGN", "z": 5.52, "m": 8.57},
      {"src": "JWST AGN", "z": 5.52, "m": 8.22},
      {"src": "JWST AGN", "z": 5.83, "m": 8.01},
      {"src": "JWST AGN", "z": 5.61, "m": 7.8},
      {"src": "JWST AGN", "z": 5.65, "m": 7.69},
      {"src": "JWST AGN", "z": 5.97, "m": 7.49},
      {"src": "JWST AGN", "z": 6.25, "m": 7.41},
      {"src": "JWST AGN", "z": 5.55, "m": 7.35},
      {"src": "JWST AGN", "z": 5.68, "m": 7.21},
      {"src": "JWST AGN", "z": 5.56, "m": 7.02},
      {"src": "JWST AGN", "z": 5.97, "m": 6.99},
      {"src": "JWST AGN", "z": 5.65, "m": 6.68},
      {"src": "JWST AGN", "z": 5.91, "m": 5.67},
      {"src": "JWST AGN", "z": 6.67, "m": 8.33},
      {"src": "JWST AGN", "z": 6.32, "m": 8.11},
      {"src": "JWST AGN", "z": 6.91, "m": 8.03},
      {"src": "JWST AGN", "z": 6.74, "m": 7.9},
      {"src": "JWST AGN", "z": 6.74, "m": 7.69},
      {"src": "JWST AGN", "z": 7.14, "m": 7.7},
      {"src": "JWST AGN", "z": 6.75, "m": 7.43},
      {"src": "JWST AGN", "z": 7.04, "m": 7.31},
      {"src": "JWST AGN", "z": 7.28, "m": 8.88},
      {"src": "JWST AGN", "z": 8.49, "m": 8.2},
      {"src": "JWST AGN", "z": 8.67, "m": 6.97},
      {"src": "JWST AGN", "z": 10.57, "m": 6.21}
    ]
  },
  "resolve": {"axis": {"x": "independent", "y": "independent"}},
  "layer": [
    {
      "data": {"name": "bands"},
      "mark": {"type": "rect", "opacity": 0.3},
      "encoding": {
        "y": {"field": "lo", "type": "quantitative", "scale": {"domain": [1, 10.5], "nice": false, "zero": false}, "axis": null},
        "y2": {"field": "hi"},
        "color": {
          "field": "seed", "type": "nominal",
          "scale": {"domain": ["Direct collapse BHs", "Nuclear runaway collisions", "Pop III stellar remnant"], "range": ["#72a2b0", "#9bbd6a", "#d3a143"]},
          "legend": null
        }
      }
    },
    {
      "data": {"name": "bands"},
      "mark": {"type": "rule", "strokeWidth": 7, "opacity": 0.35},
      "encoding": {
        "y": {"field": "hi", "type": "quantitative", "axis": null},
        "color": {"field": "seed", "type": "nominal", "legend": null}
      }
    },
    {
      "data": {"name": "bands"},
      "mark": {"type": "rule", "strokeWidth": 7, "opacity": 0.35},
      "encoding": {
        "y": {"field": "lo", "type": "quantitative", "axis": null},
        "color": {"field": "seed", "type": "nominal", "legend": null}
      }
    },
    {
      "data": {"name": "tracks"},
      "mark": {"type": "line", "clip": true, "interpolate": "monotone", "stroke": "#ffffff", "strokeWidth": 16, "opacity": 0.22},
      "encoding": {
        "x": {
          "field": "z", "type": "quantitative",
          "scale": {"domain": [5, 25], "nice": false, "zero": false},
          "axis": {
            "orient": "top",
            "title": "Time since Big Bang (Myr)",
            "titlePadding": 30,
            "labelPadding": 73,
            "values": [24.76, 23.52, 22.41, 21.43, 20.54, 19.73, 19.0, 18.33, 17.71, 17.14, 16.61, 16.12, 15.66, 15.23, 14.82, 14.44, 14.09, 13.75, 13.43, 13.13, 12.84, 12.57, 12.31, 12.06, 11.83, 11.6, 11.38, 11.18, 10.98, 10.79, 10.6, 10.43, 10.26, 10.09, 9.93, 9.78, 9.63, 9.49, 9.35, 9.22, 9.09, 8.97, 8.85, 8.73, 8.62, 8.5, 8.4, 8.29, 8.19, 8.09, 7.99, 7.9, 7.81, 7.72, 7.63, 7.55, 7.47, 7.38, 7.31, 7.23, 7.15, 7.08, 7.01, 6.94, 6.87, 6.8, 6.73, 6.67, 6.61, 6.54, 6.48, 6.42, 6.37, 6.31, 6.25, 6.2, 6.14, 6.09, 6.04, 5.99, 5.94, 5.89, 5.84, 5.79, 5.75, 5.7, 5.65, 5.61, 5.57, 5.52, 5.48, 5.44, 5.4, 5.36, 5.32, 5.28, 5.24, 5.2, 5.17, 5.13, 5.09, 5.06, 5.02],
            "labelExpr": "datum.value == 6.67 ? '800' : datum.value == 11.18 ? '400' : datum.value == 18.33 ? '200' : datum.value == 22.41 ? '150' : ''",
            "tickSize": {"condition": {"test": "datum.value == 6.67 || datum.value == 11.18 || datum.value == 18.33 || datum.value == 22.41", "value": -38}, "value": -23},
            "tickWidth": 3.6
          }
        },
        "y": {
          "field": "m", "type": "quantitative",
          "scale": {"domain": [1, 10.5], "nice": false, "zero": false},
          "axis": {
            "orient": "right",
            "title": null,
            "labels": false,
            "values": [1, 1.5, 2, 2.5, 3, 3.5, 4, 4.5, 5, 5.5, 6, 6.5, 7, 7.5, 8, 8.5, 9, 9.5, 10, 10.5],
            "tickSize": {"condition": {"test": "datum.value % 2 == 0", "value": -36}, "value": -23}
          }
        },
        "detail": {"field": "id"}
      }
    },
    {
      "data": {"name": "curves"},
      "mark": {"type": "line", "clip": true, "interpolate": "monotone", "strokeWidth": 20},
      "encoding": {
        "x": {
          "field": "z", "type": "quantitative",
          "scale": {"domain": [5, 25], "nice": false, "zero": false},
          "axis": {
            "orient": "bottom",
            "title": "Redshift",
            "titlePadding": 20,
            "labelPadding": 56,
            "values": [5, 5.5, 6, 6.5, 7, 7.5, 8, 8.5, 9, 9.5, 10, 10.5, 11, 11.5, 12, 12.5, 13, 13.5, 14, 14.5, 15, 15.5, 16, 16.5, 17, 17.5, 18, 18.5, 19, 19.5, 20, 20.5, 21, 21.5, 22, 22.5, 23, 23.5, 24, 24.5, 25],
            "labelExpr": "datum.value % 2.5 == 0 ? format(datum.value, '.1f') : ''",
            "tickSize": {"condition": {"test": "datum.value % 2.5 == 0", "value": -38}, "value": -23}
          }
        },
        "y": {
          "field": "m", "type": "quantitative",
          "scale": {"domain": [1, 10.5], "nice": false, "zero": false},
          "axis": {
            "orient": "left",
            "title": "Black hole mass log(M_BH/M_⊙)",
            "titleFontSize": 164,
            "titlePadding": 37,
            "labelPadding": 82,
            "values": [1, 1.5, 2, 2.5, 3, 3.5, 4, 4.5, 5, 5.5, 6, 6.5, 7, 7.5, 8, 8.5, 9, 9.5, 10, 10.5],
            "labelExpr": "datum.value % 2 == 0 ? format(datum.value, 'd') : ''",
            "tickSize": {"condition": {"test": "datum.value % 2 == 0", "value": -36}, "value": -23}
          }
        },
        "color": {"field": "seed", "type": "nominal", "legend": null}
      }
    },
    {
      "data": {"name": "bands"},
      "mark": {"type": "text", "align": "left", "baseline": "middle", "font": "Roboto", "fontSize": 136, "fontWeight": 500, "fill": "black", "stroke": "black", "strokeWidth": 34, "strokeJoin": "round"},
      "encoding": {
        "x": {"field": "zt", "type": "quantitative", "axis": null},
        "y": {"field": "ym", "type": "quantitative", "axis": null},
        "text": {"field": "seed"}
      }
    },
    {
      "data": {"name": "bands"},
      "mark": {"type": "text", "align": "left", "baseline": "middle", "font": "Roboto", "fontSize": 136, "fontWeight": 500},
      "encoding": {
        "x": {"field": "zt", "type": "quantitative", "axis": null},
        "y": {"field": "ym", "type": "quantitative", "axis": null},
        "text": {"field": "seed"},
        "color": {"field": "seed", "type": "nominal", "legend": null}
      }
    },
    {
      "data": {"name": "points"},
      "mark": {"type": "point", "filled": true, "opacity": 1, "strokeWidth": 6.3},
      "encoding": {
        "x": {"field": "z", "type": "quantitative", "axis": null},
        "y": {"field": "m", "type": "quantitative", "axis": null},
        "shape": {
          "field": "src", "type": "nominal",
          "scale": {"domain": ["Fan, Bañados, Simcoe 2023", "JWST AGN"], "range": ["circle", "M0,-1L0.2245,-0.309L0.951,-0.309L0.363,0.118L0.588,0.809L0,0.382L-0.588,0.809L-0.363,0.118L-0.951,-0.309L-0.2245,-0.309Z"]},
          "legend": {"title": null, "symbolStrokeWidth": 6.3}
        },
        "fill": {
          "field": "src", "type": "nominal",
          "scale": {"domain": ["Fan, Bañados, Simcoe 2023", "JWST AGN"], "range": ["#b3b3b3", "#777777"]},
          "legend": {"title": null}
        },
        "stroke": {
          "field": "src", "type": "nominal",
          "scale": {"domain": ["Fan, Bañados, Simcoe 2023", "JWST AGN"], "range": ["#999999", "#4d4d4d"]},
          "legend": {"title": null}
        },
        "size": {
          "field": "src", "type": "nominal",
          "scale": {"type": "ordinal", "domain": ["Fan, Bañados, Simcoe 2023", "JWST AGN"], "range": [1700, 8800]},
          "legend": {"title": null}
        }
      }
    },
    {
      "data": {"name": "curves"},
      "transform": [{"filter": "datum.z == 24"}],
      "mark": {"type": "point", "filled": true, "opacity": 1, "shape": "M0,-1L0.2245,-0.309L0.951,-0.309L0.363,0.118L0.588,0.809L0,0.382L-0.588,0.809L-0.363,0.118L-0.951,-0.309L-0.2245,-0.309Z", "size": 26500, "stroke": "#4a4a4a", "strokeWidth": 9},
      "encoding": {
        "x": {"field": "z", "type": "quantitative", "axis": null},
        "y": {"field": "m", "type": "quantitative", "axis": null},
        "color": {"field": "seed", "type": "nominal", "legend": null}
      }
    }
  ],
  "config": {
    "view": {"stroke": null},
    "font": "Roboto",
    "axis": {
      "grid": false,
      "domain": true,
      "domainColor": "white",
      "domainWidth": 9,
      "domainCap": "square",
      "tickColor": "white",
      "tickWidth": 4.5,
      "labelColor": "white",
      "titleColor": "white",
      "labelFont": "Roboto",
      "titleFont": "Roboto",
      "labelFontSize": 134,
      "titleFontSize": 160,
      "titleFontWeight": "normal",
      "labelOverlap": false,
      "labelBound": false,
      "labelFlush": false,
      "labelLimit": 0,
      "titleLimit": 0,
      "zindex": 1
    },
    "legend": {
      "orient": "top-right",
      "offset": 60,
      "padding": 44,
      "fillColor": "black",
      "strokeColor": "#a6a6a6",
      "strokeWidth": 7,
      "cornerRadius": 22,
      "labelFont": "Roboto",
      "labelFontSize": 115,
      "labelColor": "white",
      "labelLimit": 3000,
      "rowPadding": 55,
      "symbolOffset": 64,
      "labelOffset": 156
    }
  }
}
